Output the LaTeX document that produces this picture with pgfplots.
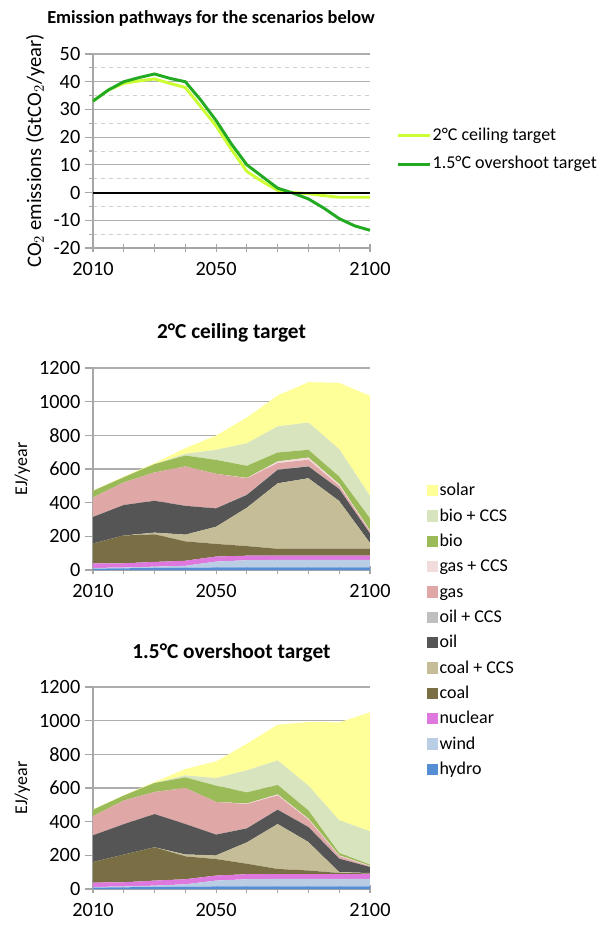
\documentclass[border=0pt]{standalone}
\usepackage{pgfplots}
\pgfplotsset{compat=1.18}
\usepackage{fontspec}
\setmainfont{Carlito}
\definecolor{cLight}{HTML}{CCFF33}
\definecolor{cDark}{HTML}{22AA22}
\definecolor{cSolar}{HTML}{FFFF99}
\definecolor{cBioCCS}{HTML}{D7E4BD}
\definecolor{cBio}{HTML}{9BBB59}
\definecolor{cGasCCS}{HTML}{F2DCDB}
\definecolor{cGas}{HTML}{DFA7A6}
\definecolor{cOilCCS}{HTML}{BFBFBF}
\definecolor{cOil}{HTML}{555555}
\definecolor{cCoalCCS}{HTML}{C4BD97}
\definecolor{cCoal}{HTML}{7A6F44}
\definecolor{cNuc}{HTML}{DE78DE}
\definecolor{cWind}{HTML}{B9CDE5}
\definecolor{cHydro}{HTML}{558ED5}
\definecolor{cAxis}{HTML}{A6A6A6}
\definecolor{cGrid}{HTML}{ADADAD}
\definecolor{cMinor}{HTML}{D0D0D0}

\pgfplotsset{
  common/.style={
    scale only axis,
    width=207.75pt,
    xmin=2010, xmax=2100,
    xtick={2010,2020,...,2100},
    xticklabels={2010,{},{},{},2050,{},{},{},{},2100},
    axis x line=bottom, axis y line=left,
    axis line style={-, cAxis, line width=0.8pt},
    tick style={cAxis, line width=0.8pt},
    major tick length=6pt,
    xtick align=center,
    ytick align=outside,
    /pgf/number format/assume math mode=true,
    /pgf/number format/1000 sep={},
    tick label style={font=\fontsize{15.2}{18}\selectfont, black},
    xticklabel style={yshift=-4pt},
    label style={font=\fontsize{13.5}{16}\selectfont},
    ymajorgrids,
    major grid style={cGrid, line width=0.8pt},
    clip=false,
  },
}

\begin{document}
\begin{tikzpicture}[x=0.75pt,y=0.75pt]

% ---------- Top: emission pathways ----------
\begin{axis}[common,
  at={(69.75pt,508.5pt)}, anchor=south west,
  height=145.5pt,
  ymin=-20, ymax=50,
  ytick={-20,-10,...,50},
  minor ytick={-15,-5,...,45},
  yminorgrids,
  minor grid style={cMinor, dashed, line width=0.6pt},
  ylabel={CO$_{2}$ emissions (GtCO$_{2}$/year)},
  ylabel style={font=\fontsize{15.5}{18}\selectfont},
  legend style={at={(1.08,0.645)}, anchor=north west, draw=none, fill=none,
    font=\fontsize{13.5}{16}\selectfont,
    nodes={text height=10pt, text depth=3pt, inner sep=1pt},
    row sep=6.3pt},
  legend cell align=left,
  legend image code/.code={\draw[#1, line width=2.2pt] (0pt,0pt) -- (24pt,0pt);},
]
\addplot[cLight, line width=2.2pt] coordinates {
(2010,33) (2015,37) (2020,39.4) (2025,40.3) (2030,41) (2035,39.4) (2040,37.9)
(2045,31) (2050,24) (2055,15.5) (2060,7.6) (2065,4) (2070,0.8) (2075,0)
(2080,-0.4) (2085,-1.1) (2090,-1.7) (2095,-1.7) (2100,-1.7)};
\addlegendentry{2°C ceiling target}
\addplot[cDark, line width=2.2pt] coordinates {
(2010,33) (2015,37) (2020,40) (2025,41.5) (2030,42.8) (2035,41.2) (2040,40)
(2045,33.4) (2050,26) (2055,17.5) (2060,10) (2065,5.8) (2070,1.6) (2075,-0.2)
(2080,-2.3) (2085,-5.6) (2090,-9.4) (2095,-12) (2100,-13.6)};
\addlegendentry{1.5°C overshoot target}
\addplot[black, line width=1.5pt, forget plot] coordinates {(2010,0) (2100,0)};
\end{axis}

% ---------- Middle: 2C ceiling target ----------
\begin{axis}[common,
  at={(69.75pt,267pt)}, anchor=south west,
  height=151.5pt,
  ymin=0, ymax=1200,
  ytick={0,200,...,1200},
  ylabel={EJ/year},
  stack plots=y,
  reverse legend,
  legend style={at={(1.19,0.455)}, anchor=north west, draw=none, fill=none,
    font=\fontsize{13.5}{16}\selectfont,
    nodes={text height=10pt, text depth=3pt, inner sep=1pt},
    row sep=4pt},
  legend cell align=left,
  legend image code/.code={\fill[#1] (0pt,-4pt) rectangle (8.5pt,4.5pt);},
]
\addplot[fill=cHydro, draw=none] coordinates {(2010,8) (2020,10) (2030,12) (2040,14) (2050,15) (2060,16) (2070,16) (2080,16) (2090,16) (2100,16)} \closedcycle;
\addlegendentry{hydro}
\addplot[fill=cWind, draw=none] coordinates {(2010,4) (2020,5) (2030,8) (2040,11) (2050,35) (2060,42) (2070,44) (2080,44) (2090,44) (2100,44)} \closedcycle;
\addlegendentry{wind}
\addplot[fill=cNuc, draw=none] coordinates {(2010,28) (2020,25) (2030,28) (2040,30) (2050,30) (2060,27) (2070,25) (2080,25) (2090,25) (2100,25)} \closedcycle;
\addlegendentry{nuclear}
\addplot[fill=cCoal, draw=none] coordinates {(2010,117) (2020,165) (2030,164) (2040,115) (2050,75) (2060,57) (2070,41) (2080,42) (2090,42) (2100,42)} \closedcycle;
\addlegendentry{coal}
\addplot[fill=cCoalCCS, draw=none] coordinates {(2010,0) (2020,0) (2030,10) (2040,40) (2050,102) (2060,228) (2070,389) (2080,418) (2090,283) (2100,33)} \closedcycle;
\addlegendentry{coal + CCS}
\addplot[fill=cOil, draw=none] coordinates {(2010,158) (2020,181) (2030,189) (2040,171) (2050,109) (2060,76) (2070,80) (2080,70) (2090,71) (2100,57)} \closedcycle;
\addlegendentry{oil}
\addplot[fill=cOilCCS, draw=none] coordinates {(2010,0) (2020,0) (2030,0) (2040,0) (2050,0) (2060,2) (2070,2) (2080,2) (2090,1) (2100,0)} \closedcycle;
\addlegendentry{oil + CCS}
\addplot[fill=cGas, draw=none] coordinates {(2010,115) (2020,134) (2030,168) (2040,234) (2050,205) (2060,97) (2070,38) (2080,38) (2090,18) (2100,13)} \closedcycle;
\addlegendentry{gas}
\addplot[fill=cGasCCS, draw=none] coordinates {(2010,0) (2020,0) (2030,0) (2040,0) (2050,0) (2060,2) (2070,10) (2080,13) (2090,10) (2100,5)} \closedcycle;
\addlegendentry{gas + CCS}
\addplot[fill=cBio, draw=none] coordinates {(2010,40) (2020,31) (2030,50) (2040,65) (2050,83) (2060,72) (2070,53) (2080,46) (2090,45) (2100,72)} \closedcycle;
\addlegendentry{bio}
\addplot[fill=cBioCCS, draw=none] coordinates {(2010,0) (2020,0) (2030,0) (2040,10) (2050,60) (2060,134) (2070,155) (2080,162) (2090,163) (2100,133)} \closedcycle;
\addlegendentry{bio + CCS}
\addplot[fill=cSolar, draw=none] coordinates {(2010,2) (2020,4) (2030,6) (2040,34) (2050,85) (2060,153) (2070,184) (2080,240) (2090,394) (2100,595)} \closedcycle;
\addlegendentry{solar}
\end{axis}

% ---------- Bottom: 1.5C overshoot target ----------
\begin{axis}[common,
  at={(69.75pt,27.75pt)}, anchor=south west,
  height=151.5pt,
  ymin=0, ymax=1200,
  ytick={0,200,...,1200},
  ylabel={EJ/year},
  stack plots=y,
]
\addplot[fill=cHydro, draw=none] coordinates {(2010,8) (2020,10) (2030,12) (2040,14) (2050,15) (2060,16) (2070,16) (2080,16) (2090,16) (2100,16)} \closedcycle;
\addplot[fill=cWind, draw=none] coordinates {(2010,4) (2020,5) (2030,8) (2040,14) (2050,35) (2060,42) (2070,44) (2080,44) (2090,44) (2100,44)} \closedcycle;
\addplot[fill=cNuc, draw=none] coordinates {(2010,26) (2020,25) (2030,30) (2040,30) (2050,30) (2060,30) (2070,28) (2080,28) (2090,28) (2100,28)} \closedcycle;
\addplot[fill=cCoal, draw=none] coordinates {(2010,122) (2020,164) (2030,198) (2040,136) (2050,98) (2060,62) (2070,31) (2080,22) (2090,7) (2100,5)} \closedcycle;
\addplot[fill=cCoalCCS, draw=none] coordinates {(2010,0) (2020,0) (2030,0) (2040,11) (2050,22) (2060,127) (2070,267) (2080,169) (2090,5) (2100,2)} \closedcycle;
\addplot[fill=cOil, draw=none] coordinates {(2010,159) (2020,181) (2030,197) (2040,181) (2050,123) (2060,83) (2070,85) (2080,89) (2090,80) (2100,36)} \closedcycle;
\addplot[fill=cOilCCS, draw=none] coordinates {(2010,0) (2020,0) (2030,0) (2040,0) (2050,0) (2060,1) (2070,1) (2080,1) (2090,1) (2100,0)} \closedcycle;
\addplot[fill=cGas, draw=none] coordinates {(2010,113) (2020,140) (2030,131) (2040,214) (2050,194) (2060,144) (2070,84) (2080,43) (2090,14) (2100,4)} \closedcycle;
\addplot[fill=cGasCCS, draw=none] coordinates {(2010,0) (2020,0) (2030,0) (2040,0) (2050,0) (2060,3) (2070,6) (2080,6) (2090,5) (2100,3)} \closedcycle;
\addplot[fill=cBio, draw=none] coordinates {(2010,39) (2020,30) (2030,54) (2040,63) (2050,97) (2060,66) (2070,56) (2080,49) (2090,14) (2100,7)} \closedcycle;
\addplot[fill=cBioCCS, draw=none] coordinates {(2010,0) (2020,0) (2030,0) (2040,12) (2050,45) (2060,131) (2070,146) (2080,147) (2090,194) (2100,198)} \closedcycle;
\addplot[fill=cSolar, draw=none] coordinates {(2010,2) (2020,2) (2030,6) (2040,38) (2050,99) (2060,158) (2070,212) (2080,378) (2090,582) (2100,706)} \closedcycle;
\end{axis}

% ---------- Titles ----------
\node[font=\bfseries\fontsize{13.8}{16}\selectfont, anchor=west, inner sep=0pt] at (47,908) {Emission pathways for the scenarios below};
\node[font=\bfseries\fontsize{16}{18}\selectfont] at (231.5,593) {2°C ceiling target};
\node[font=\bfseries\fontsize{16}{18}\selectfont] at (231.5,273) {1.5°C overshoot target};

\pgfresetboundingbox
\path[use as bounding box] (0,0) rectangle (610,926);
\end{tikzpicture}
\end{document}
